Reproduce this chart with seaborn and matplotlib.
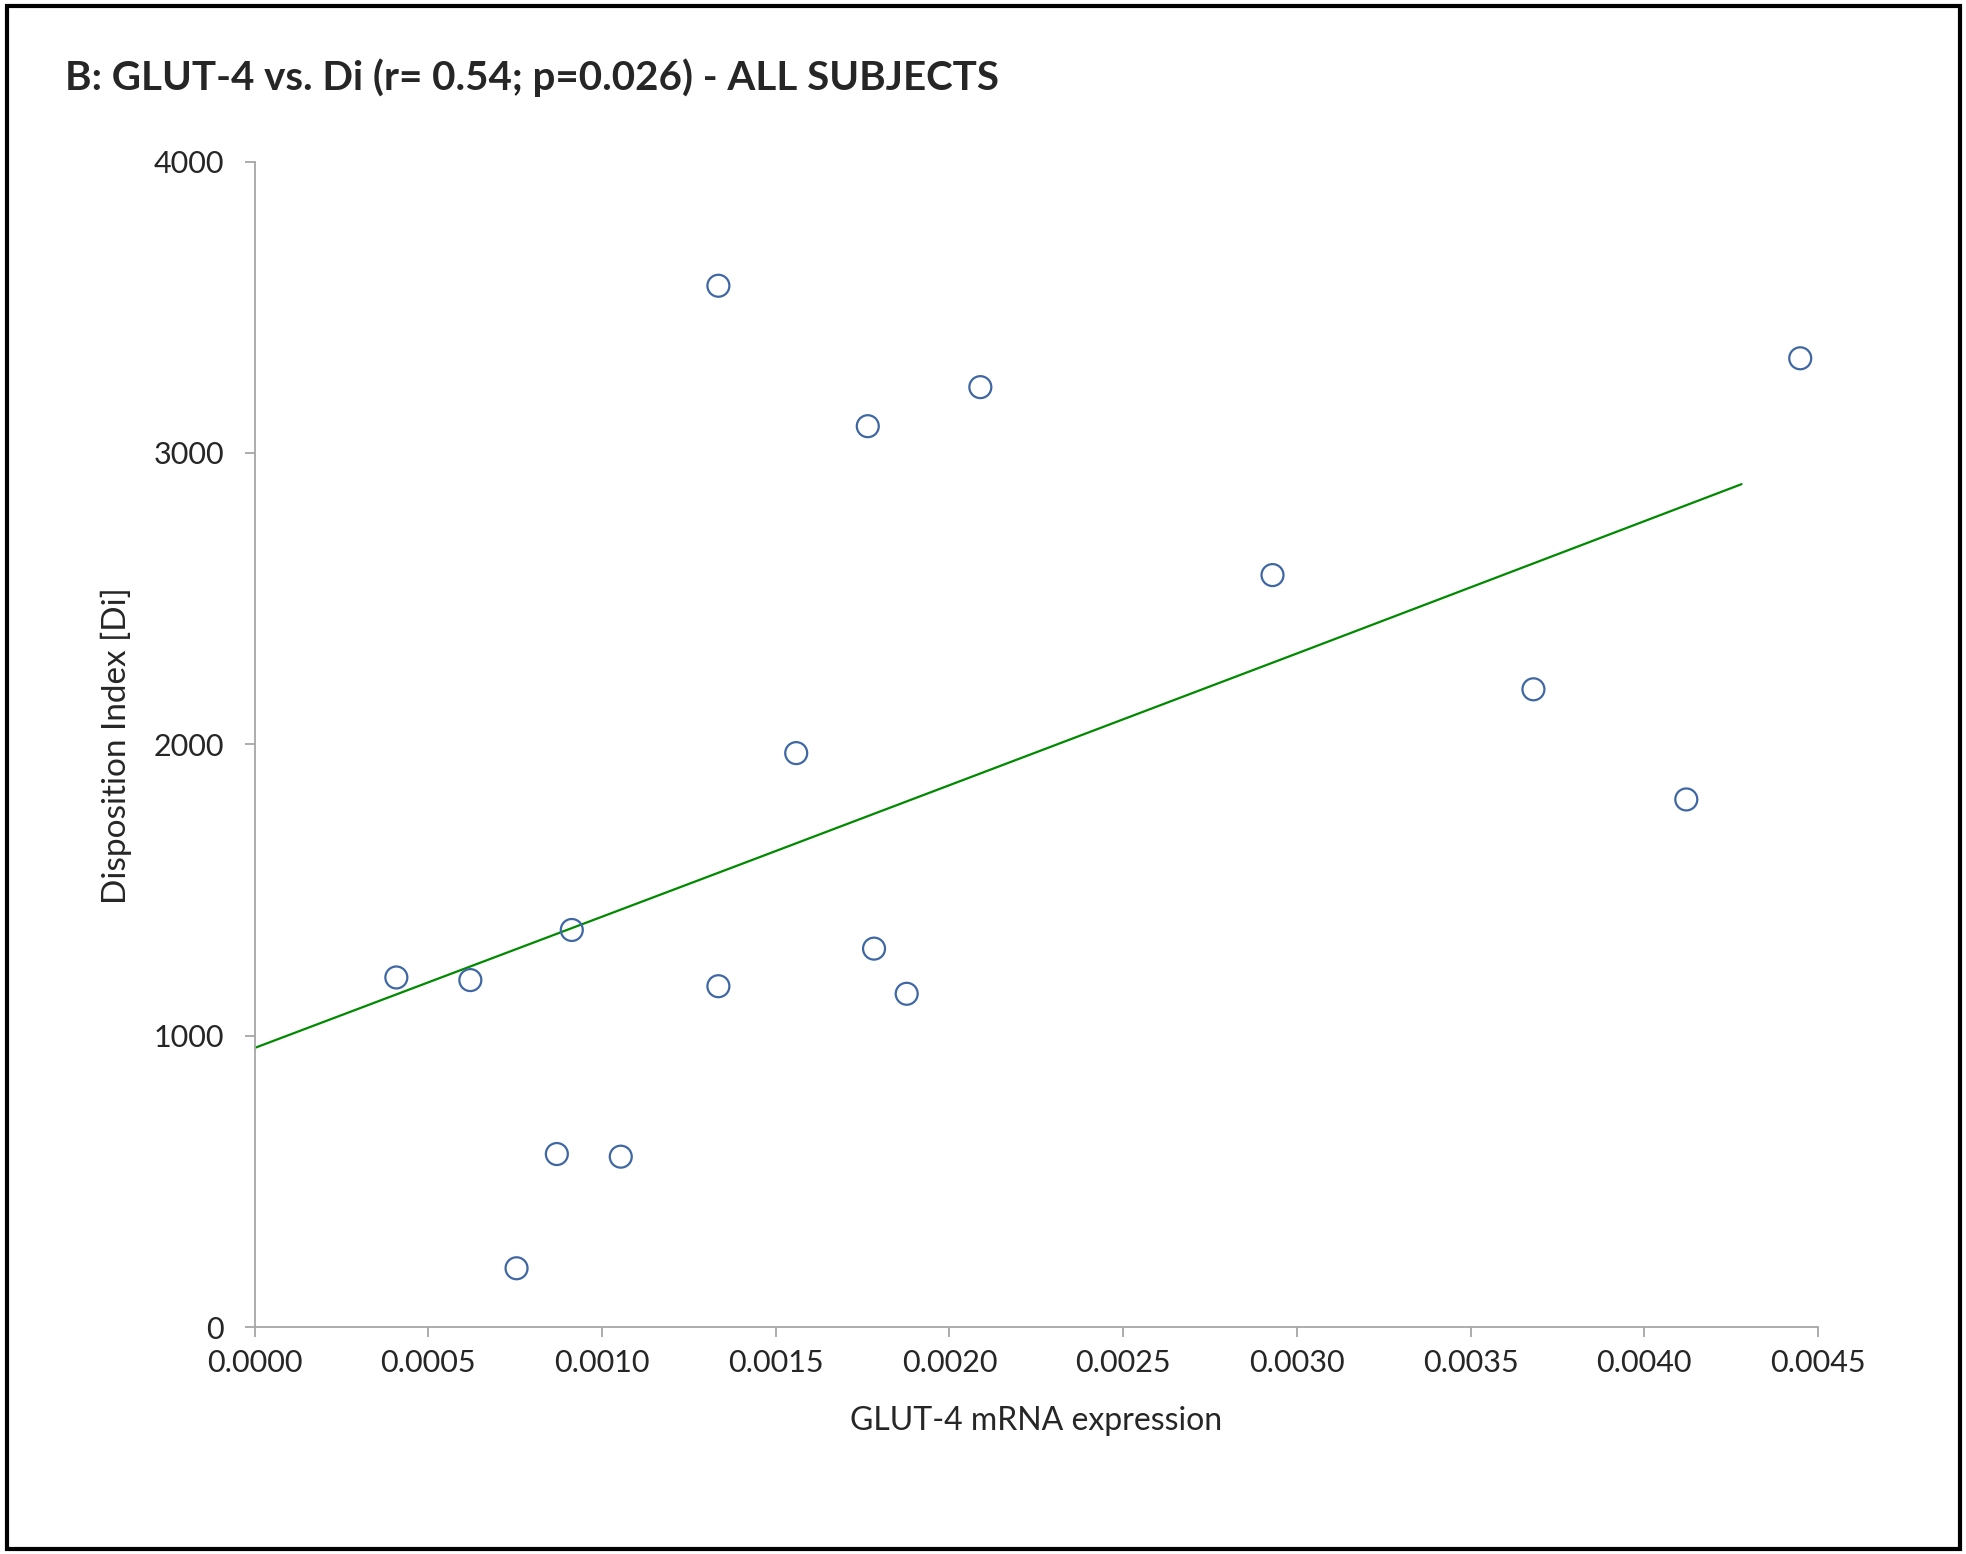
import numpy as np
import pandas as pd
import matplotlib.pyplot as plt
import seaborn as sns
from matplotlib.patches import Rectangle

# --- Data ---
glut4 = [0.000408, 0.000621, 0.000754, 0.000870, 0.000913, 0.001054, 0.001335,
         0.001335, 0.001559, 0.001765, 0.001783, 0.001877, 0.002089, 0.002930,
         0.003681, 0.004121, 0.004449]
di = [1200, 1191, 202, 594, 1363, 585, 3574, 1170, 1970, 3092, 1299, 1144,
      3226, 2581, 2189, 1811, 3325]

# trend line as drawn
trend_x = [0.0, 0.001425, 0.003029, 0.00428]
trend_y = [958, 1600, 2325, 2893]

x_ticks = [0.0, 0.0005, 0.0010, 0.0015, 0.0020, 0.0025, 0.0030, 0.0035, 0.0040, 0.0045]
y_ticks = [0, 1000, 2000, 3000, 4000]

df = pd.DataFrame({"glut4": glut4, "di": di})
trend = pd.DataFrame({"x": trend_x, "y": trend_y})

sns.set_style("white")
plt.rcParams['font.family'] = ['Lato', 'DejaVu Sans']

fig = plt.figure(figsize=(19.66, 15.54), dpi=100)
ax = fig.add_axes([0.1295, 0.146, 0.7952, 0.750])

sns.lineplot(data=trend, x="x", y="y", ax=ax, color="#008a00", linewidth=1.6)
sns.scatterplot(data=df, x="glut4", y="di", ax=ax, s=250, marker="o",
                facecolor="none", edgecolor="#3f67a3", linewidth=1.6, zorder=3)

ax.set_xlim(0, 0.0045)
ax.set_ylim(0, 4000)
ax.set_xticks(x_ticks)
ax.set_xticklabels([f"{v:.4f}" for v in x_ticks])
ax.set_yticks(y_ticks)
ax.set_yticklabels([str(v) for v in y_ticks])

for s in ["top", "right"]:
    ax.spines[s].set_visible(False)
for s in ["left", "bottom"]:
    ax.spines[s].set_color("#a6a6a6")
    ax.spines[s].set_linewidth(1.3)
ax.tick_params(axis="both", direction="out", length=7, width=1.3, color="#a6a6a6",
               labelsize=22, left=True, bottom=True)
ax.tick_params(axis="x", pad=9)
ax.tick_params(axis="y", pad=15)

ax.set_xlabel("")
ax.set_ylabel("")
fig.text(0.527, 0.0855, "GLUT-4 mRNA expression", ha="center", va="center", fontsize=23)
fig.text(0.0593, 0.52, "Disposition Index [Di]", ha="center", va="center",
         rotation=90, fontsize=24)
fig.text(0.0332, 0.95, "B: GLUT-4 vs. Di (r= 0.54; p=0.026) - ALL SUBJECTS",
         ha="left", va="center", fontsize=29, fontweight="bold")

# outer frame
fig.patches.append(Rectangle((0.0035, 0.0035), 0.9935, 0.9925, transform=fig.transFigure,
                             fill=False, edgecolor="black", linewidth=3))

fig.savefig("out.png", dpi=100)
